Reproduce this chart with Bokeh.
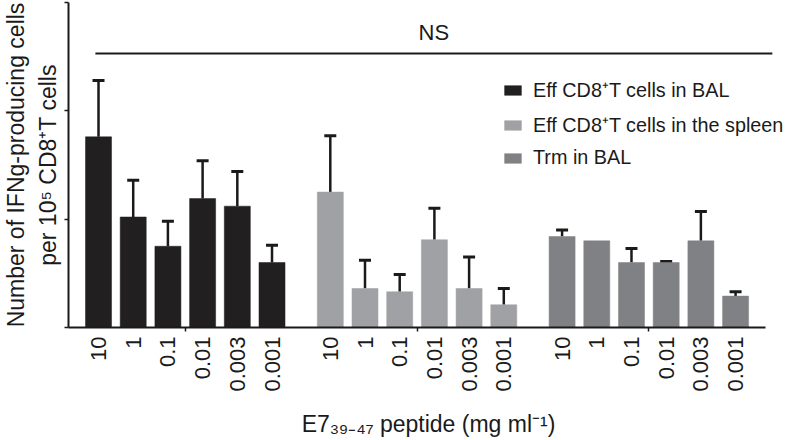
from bokeh.plotting import figure
from bokeh.models import (ColumnDataSource, FixedTicker, Whisker, TeeHead, Legend,
                          LegendItem, Label, Range1d)
from bokeh.embed import file_html
from bokeh.resources import INLINE

# ---- data ----
concentrations = ["10", "1", "0.1", "0.01", "0.003", "0.001"]
series_names = ["Eff CD8\u207aT cells in BAL",
                "Eff CD8\u207aT cells in the spleen",
                "Trm in BAL"]
eff_bal = [1.76, 1.02, 0.75, 1.19, 1.12, 0.60]
eff_bal_err = [0.52, 0.34, 0.23, 0.35, 0.32, 0.16]
eff_spleen = [1.25, 0.36, 0.33, 0.81, 0.36, 0.21]
eff_spleen_err = [0.52, 0.26, 0.16, 0.29, 0.29, 0.15]
trm_bal = [0.84, 0.80, 0.60, 0.60, 0.80, 0.29]
trm_bal_err = [0.06, 0.0, 0.13, 0.01, 0.27, 0.04]
y_ticks = [0, 1, 2, 3]
ns_level = 2.53
ns_text = "NS"
y_title = "Number of IFNg-producing cells\nper 10\u2075 CD8\u207aT cells"
x_title = "E7\u2083\u2089\u208b\u2084\u2087 peptide (mg ml\u207b\u00b9)"

# ---- styling ----
colors = ["#221f20", "#a0a1a4", "#808184"]
FONT = "Liberation Sans"
INK = "#1a1a1a"
GROUP_STRIDE = 6.68
BAR_W = 0.75

p = figure(width=788, height=440,
           x_range=Range1d(-0.865, 19.885), y_range=Range1d(0, 3.0),
           output_backend="svg", toolbar_location=None,
           min_border_left=68, min_border_right=0,
           min_border_top=2, min_border_bottom=113)
p.outline_line_color = None
p.xgrid.visible = False
p.ygrid.visible = False
p.background_fill_color = "white"

groups = [(eff_bal, eff_bal_err), (eff_spleen, eff_spleen_err), (trm_bal, trm_bal_err)]
all_ticks, overrides, group_centers = [], {}, []
legend_items = []
last_x = 0
for g, ((vals, errs), col, name) in enumerate(zip(groups, colors, series_names)):
    xs = [g * GROUP_STRIDE + i for i in range(len(vals))]
    last_x = xs[-1]
    src = ColumnDataSource(dict(x=xs, top=vals))
    r = p.vbar(x="x", top="top", width=BAR_W, source=src,
               fill_color=col, line_color=col, line_width=0.5)
    legend_items.append(LegendItem(label=name, renderers=[r]))
    ex = [x for x, e in zip(xs, errs) if e > 0]
    lo = [v for v, e in zip(vals, errs) if e > 0]
    hi = [v + e for v, e in zip(vals, errs) if e > 0]
    esrc = ColumnDataSource(dict(x=ex, lower=lo, upper=hi))
    w = Whisker(source=esrc, base="x", lower="lower", upper="upper",
                dimension="height", line_color=INK, line_width=2.5,
                upper_head=TeeHead(size=12, line_width=3, line_color=INK),
                lower_head=None)
    p.add_layout(w)
    for x, c in zip(xs, concentrations):
        all_ticks.append(x)
        overrides[x] = c
    group_centers.append(g * GROUP_STRIDE + (len(vals) - 1) / 2)

# NS bracket
ns_x0 = -0.09
ns_x1 = last_x + 1.06
p.segment(x0=[ns_x0], y0=[ns_level], x1=[ns_x1], y1=[ns_level],
          line_color=INK, line_width=2)
p.add_layout(Label(x=(ns_x0 + ns_x1) / 2, y=ns_level, y_offset=21, text=ns_text,
                   text_align="center", text_baseline="alphabetic",
                   text_font=FONT, text_font_size="22px", text_color=INK))

# x axis
xa = p.xaxis[0]
xa.bounds = (-0.865, last_x + 0.86)
xa.ticker = FixedTicker(ticks=all_ticks, minor_ticks=group_centers)
xa.major_label_overrides = overrides
xa.major_label_orientation = 3.14159265 / 2
xa.major_tick_line_color = None
xa.minor_tick_line_color = INK
xa.minor_tick_line_width = 1.5
xa.minor_tick_in = 0
xa.minor_tick_out = 4
xa.axis_line_color = INK
xa.axis_line_width = 2
xa.major_label_text_font = FONT
xa.major_label_text_font_size = "22px"
xa.major_label_text_color = INK
xa.major_label_standoff = 3
xa.axis_label = x_title
xa.axis_label_text_font = FONT
xa.axis_label_text_font_size = "23px"
xa.axis_label_text_font_style = "normal"
xa.axis_label_text_color = INK
xa.axis_label_standoff = 16

# y axis: tick marks only (as minor ticks, so no labels are drawn)
ya = p.yaxis[0]
ya.ticker = FixedTicker(ticks=[], minor_ticks=y_ticks)
ya.major_tick_line_color = None
ya.minor_tick_in = 0
ya.minor_tick_out = 4
ya.minor_tick_line_width = 1.5
ya.minor_tick_line_color = INK
ya.axis_line_color = INK
ya.axis_line_width = 2
ya.axis_label = y_title
ya.axis_label_text_font = FONT
ya.axis_label_text_font_size = "23px"
ya.axis_label_text_font_style = "normal"
ya.axis_label_text_color = INK
ya.axis_label_standoff = 4

legend = Legend(items=legend_items, location=(434, 158),
                glyph_width=21, glyph_height=12, label_standoff=10,
                spacing=8, padding=0, margin=0,
                border_line_color=None, background_fill_alpha=0,
                label_text_font=FONT, label_text_font_size="19.8px",
                label_text_color=INK)
p.add_layout(legend, "center")

open("out.html", "w").write(file_html(p, INLINE))
